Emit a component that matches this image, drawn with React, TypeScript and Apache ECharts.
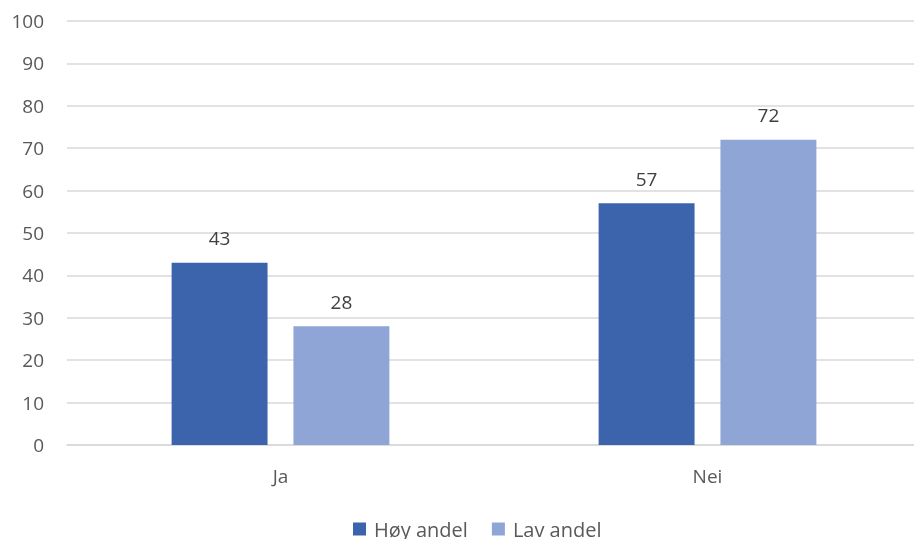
import React, { useEffect, useRef } from "react";
import * as echarts from "echarts";

const categories = ["Ja", "Nei"];
const seriesNames = ["Høy andel", "Lav andel"];
const hoyValues = [43, 57];
const lavValues = [28, 72];
const colors = ["#3C64AD", "#8FA5D6"];

export default function App() {
  const ref = useRef<HTMLDivElement>(null);
  useEffect(() => {
    if (!ref.current) return;
    const chart = echarts.init(ref.current, undefined, { renderer: "svg" });
    const font = "'Open Sans', 'Noto Sans', sans-serif";
    const label = {
      show: true,
      position: "top" as const,
      distance: 15,
      color: "#404040",
      fontSize: 19,
      fontFamily: font,
    };
    chart.setOption({
      animation: false,
      grid: { left: 67, right: 0, top: 21, bottom: 94 },
      legend: {
        bottom: -5,
        left: 348,
        itemWidth: 13,
        itemHeight: 13,
        itemGap: 24,
        icon: "rect",
        textStyle: {
          fontSize: 20,
          color: "#595959",
          fontFamily: font,
          padding: [0, 0, 0, 3],
        },
        data: seriesNames,
      },
      xAxis: {
        type: "category",
        data: categories,
        axisLine: { lineStyle: { color: "#d9d9d9", width: 1.5 } },
        axisTick: { show: false },
        axisLabel: { color: "#595959", fontSize: 19, margin: 21, fontFamily: font },
      },
      yAxis: {
        type: "value",
        min: 0,
        max: 100,
        interval: 10,
        axisLine: { show: false },
        axisTick: { show: false },
        axisLabel: { color: "#595959", fontSize: 19, margin: 23, fontFamily: font },
        splitLine: { lineStyle: { color: "#d9d9d9", width: 1.5 } },
      },
      series: [
        {
          name: seriesNames[0],
          type: "bar",
          data: hoyValues,
          itemStyle: { color: colors[0] },
          barGap: "27%",
          barCategoryGap: "49%",
          label,
        },
        {
          name: seriesNames[1],
          type: "bar",
          data: lavValues,
          itemStyle: { color: colors[1] },
          barGap: "27%",
          barCategoryGap: "49%",
          label,
        },
      ],
    });
    return () => chart.dispose();
  }, []);
  return (
    <div
      ref={ref}
      style={{ position: "fixed", left: 0, top: 0, width: 921, height: 539 }}
    />
  );
}
